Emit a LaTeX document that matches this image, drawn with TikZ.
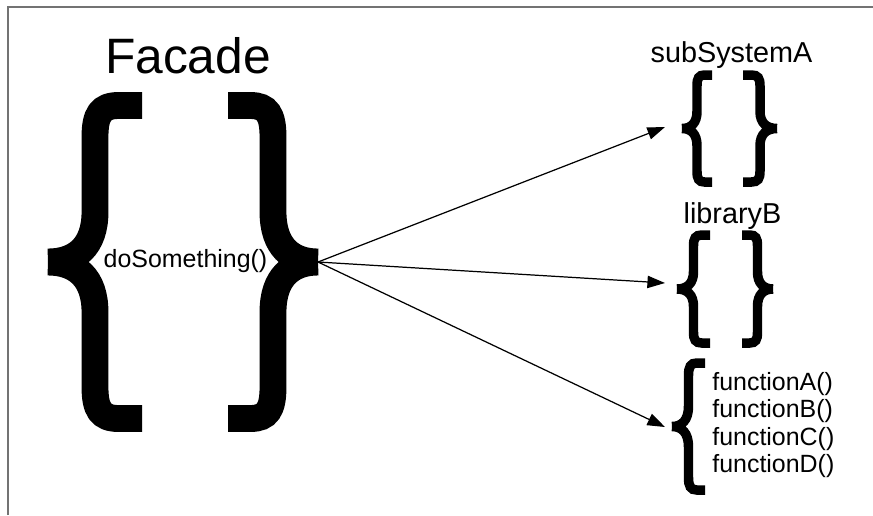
\documentclass[tikz,border=0pt]{standalone}
\usepackage{fontspec}
\setmainfont{Liberation Sans}
\usepackage{tikz}
\usetikzlibrary{arrows.meta}
\tikzset{
  curly/.pic={
    \draw[line cap=butt] (1,-1) -- (0.75,-1) .. controls (0.56,-1) and (0.5,-0.94) .. (0.5,-0.8)
      -- (0.5,-0.32) .. controls (0.5,-0.1) and (0.3,0) .. (0,0)
      (0,0) .. controls (0.3,0) and (0.5,0.1) .. (0.5,0.32)
      -- (0.5,0.8) .. controls (0.5,0.94) and (0.56,1) .. (0.75,1) -- (1,1);
  },
  bigbrace/.style={line width=15.3pt},
  smallbrace/.style={line width=5.4pt},
  link/.style={line width=0.7pt, -{Triangle[length=10pt,width=7pt]}},
  title/.style={inner sep=0, anchor=base, font=\fontsize{28.3}{32}\selectfont},
  lbl/.style={inner sep=0, anchor=base, font=\fontsize{16.4}{19}\selectfont},
  code/.style={inner sep=0, font=\fontsize{14.2}{16}\selectfont}
}

\begin{document}
\begin{tikzpicture}[x=0.02cm, y=-0.02cm]
\useasboundingbox (0,0) rectangle (873,515);
\draw[line width=1.2pt, black!55] (8,515) -- (8,7) -- (873,7);

\node[title] (facade) at (188,73) {Facade};
\pic[bigbrace, xscale=94, yscale=156.5] at (48,262) {curly};
\pic[bigbrace, xscale=-90, yscale=156.5] at (318,262) {curly};
\node[code, anchor=base] (call) at (185.5,267) {doSomething()};
\coordinate (hub) at (318,262);

\node[lbl] (subA) at (731.5,62) {subSystemA};
\pic[smallbrace, xscale=30, yscale=53.5] at (682,128.5) {curly};
\pic[smallbrace, xscale=-34, yscale=53.5] at (777,128.5) {curly};
\coordinate (toA) at (665,127);

\node[lbl] (libB) at (732.5,223) {libraryB};
\pic[smallbrace, xscale=33, yscale=54] at (677,289) {curly};
\pic[smallbrace, xscale=-31, yscale=54] at (773,289) {curly};
\coordinate (toB) at (665,283);

\pic[smallbrace, xscale=33, yscale=63.5] at (672,426.5) {curly};
\foreach \f/\y in {A/390,B/417.5,C/445,D/472.5} {
  \node[code, anchor=base west] (fn\f) at (712,\y) {function\f()};
}
\coordinate (toC) at (665,427);

\draw[link] (hub) -- (toA);
\draw[link] (hub) -- (toB);
\draw[link] (hub) -- (toC);
\end{tikzpicture}
\end{document}
